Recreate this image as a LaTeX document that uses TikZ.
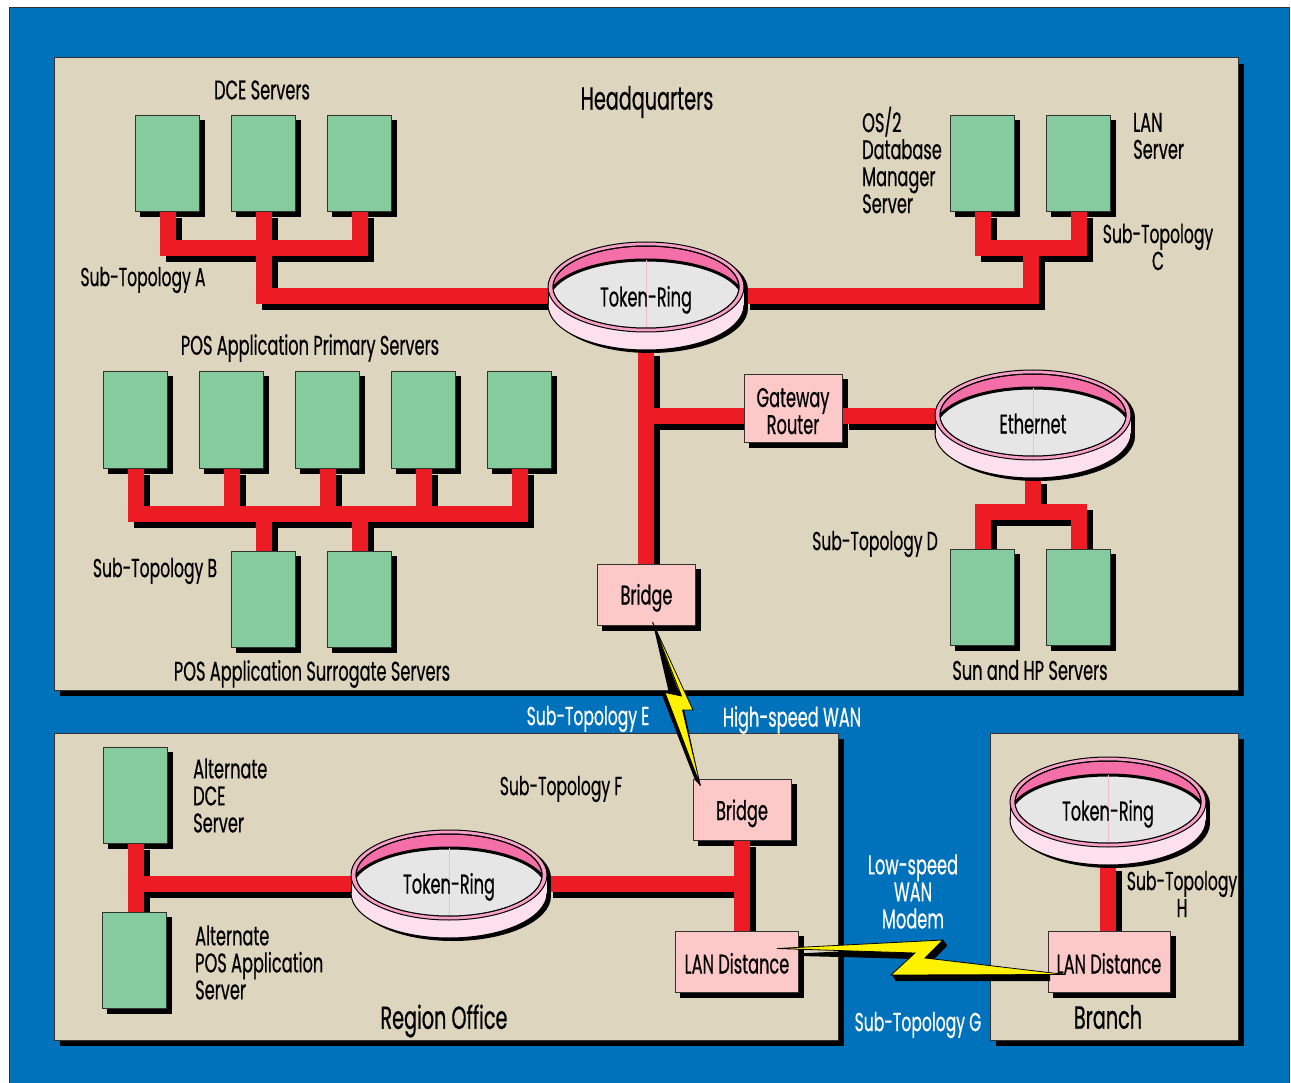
\documentclass[tikz,border=0pt]{standalone}
\usepackage{fontspec}
\setmainfont[FakeStretch=0.6,FakeBold=0.5]{Poppins}
\usetikzlibrary{shapes.geometric,calc}
\definecolor{bluebg}{RGB}{0,114,188}
\definecolor{tan}{RGB}{221,213,189}
\definecolor{srvgreen}{RGB}{132,203,157}
\definecolor{wirered}{RGB}{237,28,36}
\definecolor{boxpink}{RGB}{252,200,200}
\definecolor{ringdark}{RGB}{244,111,168}
\definecolor{ringrim}{RGB}{249,160,200}
\definecolor{ringlight}{RGB}{253,224,238}
\definecolor{ringgray}{RGB}{230,230,230}
\definecolor{edge}{RGB}{50,50,50}
\definecolor{bolt}{RGB}{255,242,0}
\pgfdeclarelayer{bx}
\pgfdeclarelayer{cn}
\pgfsetlayers{bx,cn,main}
\newcommand\lblfont{\fontsize{27}{27}\selectfont}
\newcommand\subfont{\fontsize{26}{27}\selectfont}
\newcommand\bigfont{\fontsize{32}{32}\selectfont}
% sets text with its baseline the given distance under the node centre
\newcommand\dn[2]{\raisebox{-#1pt}[0pt][0pt]{#2}}
\tikzset{
  panel/.style={fill=tan,draw=edge,line width=1pt},
  panelshadow/.style={fill=black},
  srv/.style={draw=edge,line width=1pt,fill=srvgreen,minimum width=64pt,minimum height=96pt,inner sep=0pt},
  pbox/.style={draw=edge,line width=1pt,fill=boxpink,inner sep=0pt,align=center,font=\lblfont},
  lbl/.style={font=\lblfont,inner sep=0pt,align=left,text=black,yshift=-3pt},
  sublbl/.style={lbl,font=\subfont},
  lblw/.style={font=\lblfont,inner sep=0pt,align=center,text=white,yshift=-3pt},
  sublblw/.style={lblw,font=\subfont},
  big/.style={font=\bigfont,inner sep=0pt,yshift=-3pt},
  ringnode/.style={ellipse,minimum width=196pt,minimum height=108pt,inner sep=0pt,font=\lblfont},
  redwire/.style={line width=16pt,draw=wirered,line join=miter,line cap=butt},
  darkwire/.style={line width=16pt,draw=black,line join=miter,line cap=butt,transform canvas={shift={(6pt,-6pt)}}},
  boltfill/.style={fill=bolt,draw=black,line width=.8pt,line join=miter},
  boltshadow/.style={fill=black},
}
% ring: name, x, y, baseline drop, text
\newcommand\ringat[5]{%
  \begin{scope}[shift={(#2,#3)}]
    \fill[black] (4,-6) ellipse [x radius=98pt,y radius=45pt];
    \fill[black] (4,12) ellipse [x radius=98pt,y radius=45pt];
    \fill[black] (-94,-6) rectangle (102,12);
    \filldraw[fill=ringlight,draw=black,line width=1pt] (0,9) ellipse [x radius=98pt,y radius=45pt];
    \fill[ringlight] (-98,-9) rectangle (98,9);
    \draw[black,line width=1pt] (-98,-9) -- (-98,9) (98,-9) -- (98,9);
    \filldraw[fill=ringrim,draw=black,line width=1pt] (0,-9) ellipse [x radius=98pt,y radius=45pt];
    \filldraw[fill=ringdark,draw=black,line width=1pt] (0,-9) ellipse [x radius=93pt,y radius=41pt];
    \begin{scope}
      \clip (0,-9) ellipse [x radius=93pt,y radius=41pt];
      \filldraw[fill=ringgray,draw=black,line width=3pt] (0,5) ellipse [x radius=98pt,y radius=41pt];
      \draw[ringdark!50,line width=.6pt] (0,-36) -- (0,32);
    \end{scope}
    \draw[black,line width=1pt] (0,-9) ellipse [x radius=93pt,y radius=41pt];
  \end{scope}
  \node[ringnode] (#1) at (#2,#3) {\dn{#4}{#5}};
}
\newcommand\allwires{%
  \draw[wire] (a1.south) |- (ja) -| (a3.south);
  \draw[wire] (a2.south) |- (r1.west);
  \draw[wire] (c1.south) |- (jc) -| (c2.south);
  \draw[wire] (r1.east) -| (jc);
  \draw[wire] (b1.south) |- (jb) -| (b5.south);
  \draw[wire] (b2.south) -- (b2.south|-jb);
  \draw[wire] (b3.south) -- (b3.south|-jb);
  \draw[wire] (b4.south) -- (b4.south|-jb);
  \draw[wire] (s1.north) -- (s1.north|-jb);
  \draw[wire] (s2.north) -- (s2.north|-jb);
  \draw[wire] (r1.south) -- (r1.south|-br1.north);
  \draw[wire] (jg) -- (gw.west|-jg);
  \draw[wire] (gw.east|-jg) -- (r2.west|-jg);
  \draw[wire] (d1.north) |- (jd) -| (d2.north);
  \draw[wire] (r2.south) -- (r2.south|-jd);
  \draw[wire] (u1.south) -- (u1.south|-u2.north);
  \draw[wire] (u1.south|-r3.west) -- (r3.west);
  \draw[wire] (r3.east) -- (br2.south|-r3.east);
  \draw[wire] (br2.south) -- (br2.south|-lan1.north);
  \draw[wire] (r4.south) -- (r4.south|-lan2.north);
}
\begin{document}
\begin{tikzpicture}[x=1pt,y=-1pt]
\useasboundingbox (0,0) rectangle (1291,1083);
\begin{pgfonlayer}{bx}
  \fill[white] (0,0) rectangle (1291,1083);
  \filldraw[fill=bluebg,draw=edge,line width=1pt] (9,8) rectangle (1289,1090);
  \foreach \xa/\ya/\xb/\yb in {54/58/1238/690,54/733/838/1040,990/733/1238/1040}{
    \fill[panelshadow] (\xa+6,\ya+6) rectangle (\xb+6,\yb+6);
    \filldraw[panel] (\xa,\ya) rectangle (\xb,\yb);
  }
\end{pgfonlayer}
% servers
\node[srv] (a1) at (167.5,163.5) {};
\node[srv] (a2) at (263.5,163.5) {};
\node[srv] (a3) at (359.5,163.5) {};
\node[srv] (c1) at (982.5,163.5) {};
\node[srv] (c2) at (1078.5,163.5) {};
\node[srv] (b1) at (135.5,420) {};
\node[srv] (b2) at (231.5,420) {};
\node[srv] (b3) at (327.5,420) {};
\node[srv] (b4) at (423.5,420) {};
\node[srv] (b5) at (519.5,420) {};
\node[srv] (s1) at (263.5,599) {};
\node[srv] (s2) at (359.5,599) {};
\node[srv] (d1) at (982.5,597) {};
\node[srv] (d2) at (1078.5,597) {};
\node[srv] (u1) at (135.5,795) {};
\node[srv] (u2) at (134.5,960) {};
% boxes
\node[pbox,minimum width=98pt,minimum height=67pt] (gw) at (793,408.5) {\dn{12}{Gateway}\\\dn{12}{Router}};
\node[pbox,minimum width=98pt,minimum height=61pt] (br1) at (646.5,595) {\dn{9.5}{Bridge}};
\node[pbox,minimum width=98pt,minimum height=61pt] (br2) at (742,810) {\dn{10}{Bridge}};
\node[pbox,minimum width=123pt,minimum height=61pt] (lan1) at (737,961.5) {\dn{12}{LAN Distance}};
\node[pbox,minimum width=122pt,minimum height=61pt] (lan2) at (1109,961.5) {\dn{12}{LAN Distance}};
\begin{pgfonlayer}{bx}
  \foreach \n in {a1,a2,a3,c1,c2,b1,b2,b3,b4,b5,s1,s2,d1,d2,u1,u2,gw,br1,br2,lan1,lan2}{
    \fill[black] ($(\n.south west)+(5,5)$) rectangle ($(\n.north east)+(5,5)$);
  }
\end{pgfonlayer}
% rings
\ringat{r1}{646}{296}{10.5}{Token-Ring}
\ringat{r2}{1033}{424}{9.5}{Ethernet}
\ringat{r3}{449}{884}{9.5}{Token-Ring}
\ringat{r4}{1108}{811}{9.5}{Token-Ring}
% junctions
\coordinate (ja) at (263,248);
\coordinate (jc) at (1031,248);
\coordinate (jb) at (328,514);
\coordinate (jg) at (646,416);
\coordinate (jd) at (1031,512);
\begin{pgfonlayer}{cn}
  \begin{scope}[wire/.style={darkwire}]\allwires\end{scope}
  \begin{scope}[wire/.style={redwire}]\allwires\end{scope}
  % second bolt shadow runs under the LAN Distance boxes
  \fill[boltshadow] ($(lan1.east)+(-20,-7)$) -- (947,946) -- (929,964) -- ($(lan2.west)+(17,19)$) -- (895,981) -- (919,959) -- cycle;
\end{pgfonlayer}
% bolts
\fill[boltshadow] ($(br1.south)+(6,-4)$) -- (668.5,691) -- (662.5,696.5) -- (695,780) -- ($(br2.north west)+(8,7)$) -- (682,700) -- cycle;
\filldraw[boltfill] ($(br1.south)+(6,-4)$) -- (693,710) -- (682.5,710) -- ($(br2.north west)+(8,7)$) -- (665,692.5) -- (681.5,696) -- cycle;
\fill[boltshadow] (892,975) -- (896,981) -- (1050,981) -- (1050,975) -- cycle;
\fill[boltshadow] (943,940) -- (947,945) -- (930,963) -- (925,958) -- cycle;
\fill[boltshadow] (800,954) -- (800,956) -- (921,959) -- (915,953) -- cycle;
\filldraw[boltfill] ($(lan1.north east)+(-22,18)$) -- (943,940) -- (925,958) -- ($(lan2.north west)+(18,44)$) -- (891,975) -- (915,953) -- cycle;
% labels
\node[big] (t1) at (647,99) {Headquarters};
\node[lbl] (t2) at (262,87) {DCE Servers};
\node[lbl,anchor=west] (t3) at (862,157) {OS/2\\Database\\Manager\\Server};
\node[lbl,anchor=west] (t4) at (1133,133) {LAN\\Server};
\node[sublbl] (t5) at (143,277) {Sub-Topology A};
\node[sublbl,align=center] (t6) at (1158,244) {Sub-Topology\\C};
\node[lbl] (t7) at (310,345) {POS Application Primary Servers};
\node[sublbl] (t8) at (155,568) {Sub-Topology B};
\node[sublbl] (t9) at (875,541) {Sub-Topology D};
\node[lbl] (t10) at (312,671) {POS Application Surrogate Servers};
\node[lbl] (t11) at (1030,667) {Sun and HP Servers};
\node[sublblw] (t12) at (588,716) {Sub-Topology E};
\node[lblw] (t13) at (792,717) {High-speed WAN};
\node[sublbl] (t14) at (561,786) {Sub-Topology F};
\node[lbl,anchor=west] (t15) at (193,792.5) {Alternate\\DCE\\Server};
\node[lbl,anchor=west] (t16) at (195,959.5) {Alternate\\POS Application\\Server};
\node[big] (t17) at (444,1018) {Region Office};
\node[lblw] (t18) at (913,888.5) {Low-speed\\WAN\\Modem};
\node[sublblw] (t19) at (918,1022) {Sub-Topology G};
\node[sublbl,align=center] (t20) at (1182,891) {Sub-Topology\\H};
\node[big] (t21) at (1108,1014) {Branch};
\end{tikzpicture}
\end{document}
